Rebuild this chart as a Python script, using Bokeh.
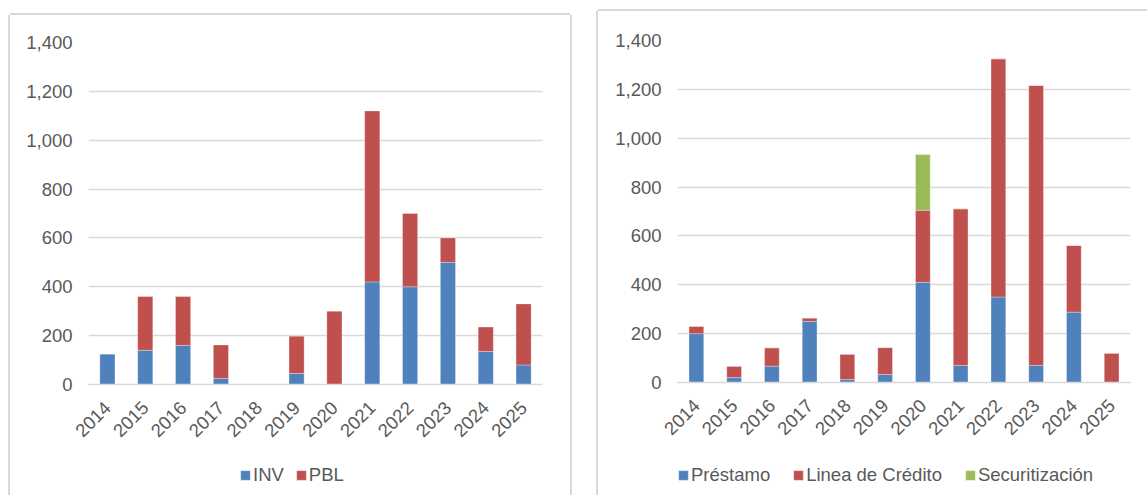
import math
from bokeh.plotting import figure
from bokeh.models import (ColumnDataSource, FactorRange, Range1d, FixedTicker,
                          NumeralTickFormatter, Legend, LegendItem)
from bokeh.layouts import row, column
from bokeh.embed import file_html
from bokeh.resources import INLINE

# ---------------- data ----------------
years = ["2014", "2015", "2016", "2017", "2018", "2019",
         "2020", "2021", "2022", "2023", "2024", "2025"]

# left chart
inv = [125, 140, 160, 25, 0, 45, 0, 420, 400, 500, 135, 80]
pbl = [0, 220, 200, 137, 0, 153, 300, 700, 300, 100, 100, 250]
left_labels = ["INV", "PBL"]

# right chart
prestamo = [200, 20, 67, 250, 12, 33, 410, 70, 350, 70, 288, 0]
linea = [30, 47, 75, 14, 104, 110, 295, 641, 975, 1146, 273, 120]
secur = [0, 0, 0, 0, 0, 0, 228, 0, 0, 0, 0, 0]
right_labels = ["Préstamo", "Linea de Crédito", "Securitización"]

y_ticks = [0, 200, 400, 600, 800, 1000, 1200, 1400]

BLUE = "#4F81BD"
RED = "#C0504D"
GREEN = "#9BBB59"
GRID = "#D9D9D9"
TXT = "#595959"
FONT = "Liberation Sans"
FSIZE = "18.5px"
BAR_STYLE = dict(line_color="white", line_width=0.6, line_alpha=0.5)


def make_fig(width, height, mb_left, mb_right, mb_top, mb_bottom, margin, shadow):
    p = figure(x_range=FactorRange(*years, range_padding=0), y_range=Range1d(0, 1400),
               width=width, height=height, output_backend="svg", toolbar_location=None,
               min_border_left=mb_left, min_border_right=mb_right,
               min_border_top=mb_top, min_border_bottom=mb_bottom)
    p.margin = margin
    p.styles = {"box-shadow": shadow}
    p.outline_line_color = None
    p.background_fill_color = "white"
    p.border_fill_color = "white"
    p.xgrid.grid_line_color = None
    p.ygrid.grid_line_color = GRID
    p.ygrid.grid_line_width = 1.5
    p.yaxis.ticker = FixedTicker(ticks=y_ticks)
    p.yaxis.formatter = NumeralTickFormatter(format="0,0")
    p.yaxis.axis_line_color = None
    p.yaxis.major_tick_line_color = None
    p.yaxis.minor_tick_line_color = None
    p.yaxis.major_tick_in = 0
    p.yaxis.major_tick_out = 0
    p.yaxis.major_label_standoff = 16
    for ax in (p.xaxis, p.yaxis):
        ax.major_label_text_font = FONT
        ax.major_label_text_font_size = FSIZE
        ax.major_label_text_color = TXT
    p.xaxis.axis_line_color = GRID
    p.xaxis.axis_line_width = 1.5
    p.xaxis.major_tick_line_color = None
    p.xaxis.major_tick_in = 0
    p.xaxis.major_tick_out = 0
    p.xaxis.major_label_orientation = math.pi / 4
    p.xaxis.major_label_standoff = 20
    return p


def legend_fig(width, mb_left, mb_right, margin, shadow, source, cols, labels, colors,
               x, y, spacing):
    # legend strip under the chart: same series, drawn outside its (empty) view range
    lf = figure(width=width, height=40, output_backend="svg", toolbar_location=None,
                x_range=FactorRange(*years, range_padding=0), y_range=Range1d(5000, 5001),
                x_axis_location=None, y_axis_location=None,
                min_border_left=mb_left, min_border_right=mb_right,
                min_border_top=0, min_border_bottom=0)
    lf.margin = margin
    lf.styles = {"box-shadow": shadow}
    lf.grid.visible = False
    lf.outline_line_color = None
    lf.border_fill_color = "white"
    rs = lf.vbar_stack(cols, x="years", width=0.4, source=source, color=colors, **BAR_STYLE)
    items = [LegendItem(label=lab, renderers=[r]) for lab, r in zip(labels, rs)]
    leg = Legend(items=items, location=(x, y), orientation="horizontal",
                 glyph_width=12, glyph_height=12, label_standoff=2, spacing=spacing,
                 padding=0, margin=0, border_line_color=None, background_fill_alpha=0,
                 label_text_font=FONT, label_text_font_size=FSIZE, label_text_color=TXT)
    lf.add_layout(leg, "center")
    return lf


# ---------------- left chart ----------------
src_l = ColumnDataSource(dict(years=years, INV=inv, PBL=pbl))
p1 = make_fig(560, 440, 78, 28, 27, 71, (15, 0, 0, 10),
              "-2px 0 0 #D9D9D9, 2px 0 0 #D9D9D9, 0 -2px 0 #D9D9D9")
p1.vbar_stack(["INV", "PBL"], x="years", width=0.40, source=src_l,
              color=[BLUE, RED], **BAR_STYLE)
l1 = legend_fig(560, 78, 28, (0, 0, 0, 10), "-2px 0 0 #D9D9D9, 2px 0 0 #D9D9D9",
                src_l, ["INV", "PBL"], left_labels, [BLUE, RED], 151, 9, 11)

# ---------------- right chart ----------------
src_r = ColumnDataSource(dict(years=years, P=prestamo, L=linea, S=secur))
p2 = make_fig(549, 444, 79, 17, 29, 73, (11, 0, 0, 28),
              "-2px 0 0 #D9D9D9, 0 -2px 0 #D9D9D9")
p2.vbar_stack(["P", "L", "S"], x="years", width=0.39, source=src_r,
              color=[BLUE, RED, GREEN], **BAR_STYLE)
l2 = legend_fig(549, 79, 17, (0, 0, 0, 28), "-2px 0 0 #D9D9D9",
                src_r, ["P", "L", "S"], right_labels, [BLUE, RED, GREEN], 0, 9, 22)

layout = row(column(p1, l1, spacing=0), column(p2, l2, spacing=0), spacing=0)
open("out.html", "w").write(file_html(layout, INLINE))
